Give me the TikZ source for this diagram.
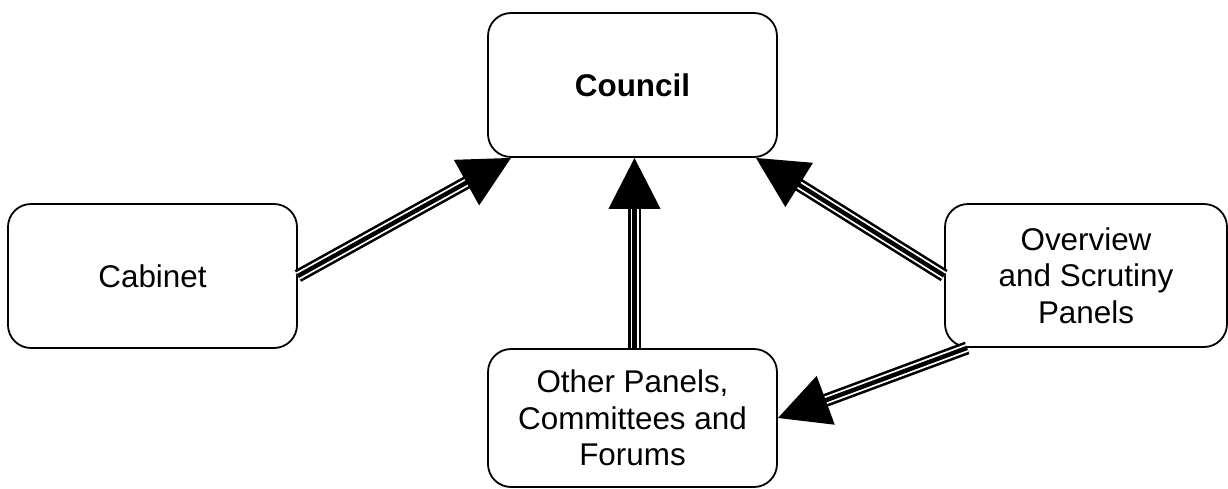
\documentclass[tikz,border=0pt]{standalone}
\usepackage{fontspec}
\setmainfont{Liberation Sans}
\usetikzlibrary{arrows.meta}
\tikzset{
  panel/.style={draw,rounded corners=11.5pt,line width=0.9pt,align=center,
                minimum width=144.5pt,minimum height=72pt,inner sep=2pt,
                font=\fontsize{15.7}{18.25}\selectfont},
  shaft/.style={draw,line width=1.3pt,double=white,double distance=4pt,shorten >=20pt},
  head/.style={draw,line width=2.2pt,-{Triangle[length=25.5pt,width=25.5pt]}},
}
\begin{document}
\begin{tikzpicture}[x=0.5pt,y=-0.5pt]
    \useasboundingbox (0,0) rectangle (1228,488);
    \node[panel] (council) at (632.5,85) {\textbf{Council}};
    \node[panel] (cabinet) at (152.5,276) {Cabinet};
    \node[panel,minimum width=141pt,minimum height=71.5pt] (overview) at (1086,275.5) {Overview\\and Scrutiny\\Panels};
    \node[panel,minimum height=69pt] (other) at (632.5,418) {Other Panels,\\Committees and\\Forums};
    % arrow ends
    \coordinate (cl) at ([xshift=12pt]council.south west);
    \coordinate (cm) at ([xshift=1pt]council.south);
    \coordinate (cr) at ([xshift=-11pt]council.south east);
    \coordinate (om) at ([xshift=1pt]other.north);
    \coordinate (ov) at ([xshift=11.5pt]overview.south west);
    \foreach \a/\b in {cabinet.east/cl, om/cm, overview.west/cr, ov/other.east}{
      \draw[shaft] (\a) -- (\b);
      \draw[head] (\a) -- (\b);
    }
\end{tikzpicture}
\end{document}
